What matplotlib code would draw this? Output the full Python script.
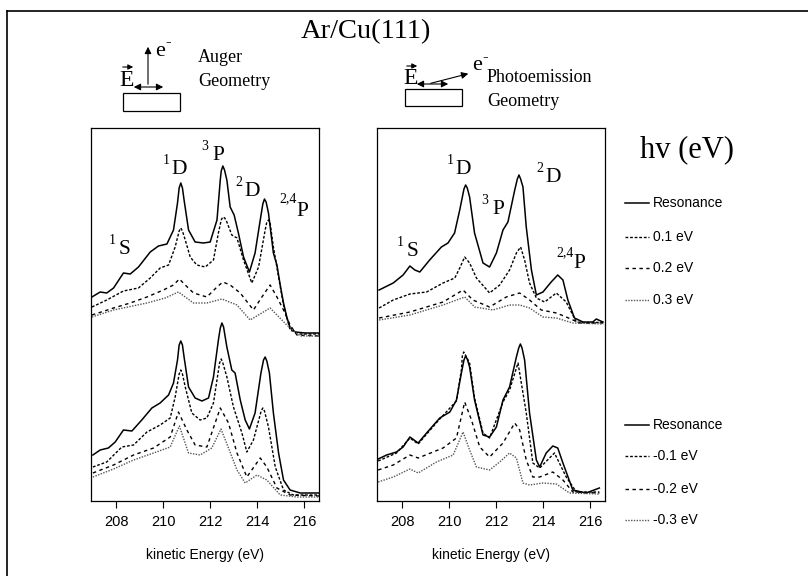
import matplotlib
matplotlib.use("Agg")
import matplotlib.pyplot as plt
from matplotlib.lines import Line2D
from matplotlib.patches import Rectangle, FancyArrowPatch

SERIF = "Liberation Serif"
SANS = "Liberation Sans"
plt.rcParams["font.family"] = [SANS, "DejaVu Sans"]

# ---------------- data (kinetic energy eV, intensity arb. units incl. stacking offset) -------------
# Auger geometry, upper group (positive detuning)
aug_res_E = [206.97, 207.32, 207.60, 207.89, 208.31, 208.60, 208.95, 209.45, 209.80, 210.16, 210.44, 210.61,
             210.68, 210.75, 210.82, 210.89, 211.08, 211.36, 211.71, 212.00, 212.29, 212.43, 212.47, 212.54,
             212.61, 212.71, 212.85, 213.02, 213.20, 213.42, 213.67, 213.91, 214.13, 214.24, 214.31, 214.38,
             214.48, 214.69, 214.84, 214.98, 215.12, 215.27, 215.41, 215.62, 216.04, 216.64]
aug_res_I = [204, 209, 208, 213, 228, 227, 234, 249, 255, 257, 271, 298, 313, 318, 313, 301, 271, 259, 258,
             259, 281, 321, 330, 335, 331, 321, 294, 286, 268, 244, 229, 248, 281, 297, 302, 299, 288, 248,
             236, 216, 198, 183, 173, 169, 168, 168]
aug_p01_E = [206.97, 207.60, 208.31, 208.95, 209.45, 209.87, 210.23, 210.51, 210.68, 210.75, 210.82, 210.94,
             211.15, 211.43, 211.79, 212.14, 212.35, 212.47, 212.54, 212.62, 212.71, 212.92, 213.14, 213.42,
             213.77, 214.06, 214.34, 214.41, 214.48, 214.55, 214.69, 214.91, 215.12, 215.40, 215.83, 216.64]
aug_p01_I = [194, 201, 210, 213, 223, 233, 236, 254, 270, 273, 270, 261, 244, 236, 234, 241, 268, 281, 284,
             283, 279, 266, 263, 241, 218, 234, 271, 279, 281, 278, 254, 224, 196, 171, 167, 167]
aug_p02_E = [206.97, 207.89, 208.60, 209.31, 210.01, 210.44, 210.69, 210.94, 211.29, 211.86, 212.29, 212.54,
             212.85, 213.28, 213.84, 214.20, 214.55, 214.84, 215.12, 215.40, 215.69, 216.64]
aug_p02_I = [186, 193, 198, 204, 211, 216, 222, 216, 208, 204, 214, 219, 216, 208, 191, 204, 216, 204, 191,
             176, 166, 165]
aug_p03_E = [206.97, 207.89, 209.31, 210.09, 210.65, 211.29, 211.86, 212.50, 213.14, 213.70, 214.55, 215.26,
             215.83, 216.64]
aug_p03_I = [184, 191, 198, 203, 209, 198, 198, 202, 196, 181, 193, 176, 165, 165]

# Auger geometry, lower group (negative detuning)
aug_res2_E = [207.01, 207.32, 207.67, 207.96, 208.31, 208.67, 209.09, 209.52, 209.87, 210.23, 210.44, 210.61,
              210.68, 210.75, 210.82, 210.89, 211.08, 211.36, 211.65, 211.93, 212.14, 212.35, 212.43, 212.50,
              212.57, 212.71, 212.92, 213.06, 213.28, 213.49, 213.67, 213.91, 214.16, 214.27, 214.34, 214.41,
              214.52, 214.69, 214.91, 215.12, 215.40, 215.83, 216.64]
aug_res2_I = [46, 51, 53, 59, 71, 70, 81, 93, 98, 106, 118, 141, 156, 160, 156, 144, 114, 103, 100, 103, 124,
              161, 173, 178, 174, 154, 131, 128, 101, 81, 72, 88, 128, 141, 144, 140, 128, 88, 48, 21, 11, 8, 8]
aug_m01_E = [207.01, 207.60, 208.24, 208.74, 209.31, 209.87, 210.30, 210.51, 210.68, 210.75, 210.82, 210.94,
             211.22, 211.57, 211.86, 212.14, 212.40, 212.47, 212.54, 212.71, 212.99, 213.35, 213.56, 213.84,
             214.17, 214.24, 214.31, 214.48, 214.77, 215.12, 215.54, 216.64]
aug_m01_I = [34, 39, 54, 56, 69, 76, 83, 104, 127, 131, 127, 114, 88, 81, 83, 98, 138, 142, 138, 124, 94, 68,
             49, 61, 90, 93, 90, 74, 34, 11, 6, 6]
aug_m02_E = [207.01, 207.89, 208.74, 209.59, 210.30, 210.65, 211.01, 211.36, 211.86, 212.43, 212.78, 213.14,
             213.56, 214.13, 214.41, 214.84, 215.40, 216.64]
aug_m02_I = [28, 36, 46, 53, 64, 89, 71, 56, 54, 93, 78, 48, 24, 43, 34, 13, 6, 5]
aug_m03_E = [207.01, 207.89, 208.74, 209.59, 210.30, 210.69, 211.08, 211.57, 212.07, 212.46, 212.78, 213.14,
             213.49, 213.99, 214.41, 214.98, 215.69, 216.64]
aug_m03_I = [24, 32, 41, 48, 54, 75, 48, 46, 53, 72, 53, 31, 18, 26, 21, 6, 4, 4]

# Photoemission geometry, upper group
pho_res_E = [207.02, 207.62, 208.04, 208.33, 208.54, 208.75, 209.17, 209.67, 209.95, 210.23, 210.45, 210.63,
             210.70, 210.77, 210.87, 211.08, 211.44, 211.72, 212.01, 212.29, 212.50, 212.79, 212.90, 212.97,
             213.04, 213.14, 213.28, 213.50, 213.71, 213.99, 214.34, 214.62, 214.84, 215.05, 215.33, 215.69,
             216.11, 216.26, 216.54]
pho_res_I = [211, 218, 226, 235, 231, 229, 241, 254, 258, 268, 291, 312, 316, 313, 304, 268, 238, 234, 248,
             271, 279, 311, 322, 326, 322, 314, 274, 231, 206, 209, 219, 226, 221, 201, 183, 179, 179, 182, 179]
pho_p01_E = [207.02, 207.62, 208.33, 209.04, 209.74, 210.24, 210.45, 210.66, 210.87, 211.16, 211.72, 212.15,
             212.57, 212.86, 213.04, 213.21, 213.42, 213.71, 214.06, 214.56, 214.98, 215.41, 215.97, 216.56]
pho_p01_I = [193, 201, 207, 209, 218, 223, 233, 244, 238, 223, 208, 216, 231, 248, 254, 241, 218, 203, 199,
             208, 199, 179, 178, 179]
pho_p02_E = [207.02, 208.33, 209.74, 210.59, 211.01, 211.72, 212.43, 213.00, 213.42, 213.92, 214.56, 214.98,
             215.55, 216.56]
pho_p02_I = [183, 189, 199, 211, 201, 194, 204, 208, 201, 191, 188, 184, 178, 178]
pho_p03_E = [207.02, 208.33, 209.74, 210.66, 211.09, 211.86, 212.57, 213.00, 213.42, 213.99, 214.56, 215.26,
             216.56]
pho_p03_I = [181, 186, 196, 204, 194, 191, 196, 196, 193, 184, 183, 178, 177]

# Photoemission geometry, lower group
pho_res2_E = [206.98, 207.34, 207.76, 208.04, 208.33, 208.68, 209.04, 209.60, 210.03, 210.31, 210.52, 210.63,
              210.70, 210.77, 210.87, 211.08, 211.44, 211.72, 212.01, 212.29, 212.57, 212.86, 212.96, 213.03,
              213.10, 213.21, 213.42, 213.71, 213.85, 214.13, 214.41, 214.62, 214.84, 215.26, 215.83, 216.39]
pho_res2_I = [42, 46, 49, 54, 64, 58, 68, 83, 89, 101, 128, 141, 145, 142, 134, 101, 66, 64, 74, 101, 114, 144,
              153, 157, 153, 141, 88, 41, 34, 48, 55, 53, 38, 11, 8, 13]
pho_m01_E = [206.98, 207.76, 208.33, 208.68, 209.60, 210.31, 210.52, 210.56, 210.62, 210.69, 210.87, 211.08,
             211.44, 211.72, 212.29, 212.57, 212.93, 213.28, 213.56, 213.85, 214.48, 214.98, 215.41, 216.39]
pho_m01_I = [40, 48, 63, 57, 82, 100, 131, 145, 149, 146, 138, 103, 68, 63, 99, 111, 138, 88, 38, 33, 48, 24,
             9, 9]
pho_m02_E = [206.98, 207.62, 208.33, 208.68, 209.74, 210.31, 210.66, 210.95, 211.30, 211.72, 212.29, 212.79,
             213.00, 213.28, 213.56, 213.85, 214.41, 214.84, 215.26, 216.39]
pho_m02_I = [31, 36, 46, 43, 53, 63, 99, 81, 54, 44, 58, 78, 71, 41, 24, 24, 29, 21, 9, 8]
pho_m03_E = [206.98, 207.62, 208.33, 208.68, 209.46, 210.17, 210.59, 210.87, 211.16, 211.72, 212.15, 212.57,
             212.86, 213.14, 213.42, 213.99, 214.56, 215.12, 216.39]
pho_m03_I = [19, 24, 32, 28, 39, 46, 69, 51, 34, 31, 39, 48, 43, 18, 16, 18, 17, 8, 7]

upper_labels = ["Resonance", "0.1 eV", "0.2 eV", "0.3 eV"]
lower_labels = ["Resonance", "-0.1 eV", "-0.2 eV", "-0.3 eV"]
xticks = [208, 210, 212, 214, 216]

aug_left = [(aug_res_E, aug_res_I), (aug_p01_E, aug_p01_I), (aug_p02_E, aug_p02_I), (aug_p03_E, aug_p03_I),
            (aug_res2_E, aug_res2_I), (aug_m01_E, aug_m01_I), (aug_m02_E, aug_m02_I), (aug_m03_E, aug_m03_I)]
pho_right = [(pho_res_E, pho_res_I), (pho_p01_E, pho_p01_I), (pho_p02_E, pho_p02_I), (pho_p03_E, pho_p03_I),
             (pho_res2_E, pho_res2_I), (pho_m01_E, pho_m01_I), (pho_m02_E, pho_m02_I), (pho_m03_E, pho_m03_I)]

# ---------------- styles ----------------
styles = [dict(color="black", lw=1.1, ls="-"),
          dict(color="black", lw=1.0, ls=(0, (2, 1.3))),
          dict(color="black", lw=1.0, ls=(0, (2.5, 2.5))),
          dict(color="#555555", lw=1.0, ls=(0, (1, 1)))]

W, H = 808, 576
fig = plt.figure(figsize=(W / 100, H / 100), dpi=100)


def fx(px):
    return px / W


def fy(py):
    return 1 - py / H


ax_l = fig.add_axes([fx(91), fy(501), fx(319 - 91), (501 - 128) / H])
ax_r = fig.add_axes([fx(377), fy(501), fx(605 - 377), (501 - 128) / H])

for ax, curves in ((ax_l, aug_left), (ax_r, pho_right)):
    for i, (E, I) in enumerate(curves):
        ax.plot(E, I, **styles[i % 4])
    ax.set_xlim(206.93, 216.63)
    ax.set_ylim(0, 373)
    ax.set_yticks([])
    ax.set_xticks(xticks)
    ax.set_xticklabels([str(t) for t in xticks], fontsize=10.5, family=SANS)
    ax.tick_params(axis="x", direction="out", length=5, width=0.8, pad=5)
    for s in ax.spines.values():
        s.set_linewidth(0.9)
    ax.set_xlabel("kinetic Energy (eV)", fontsize=10, family=SANS, labelpad=14)


def ptext(px, py, s, size, **kw):
    fig.text(fx(px), fy(py), s, fontsize=size, family=SERIF, ha="center", va="center", **kw)


def peak(px, py, sup, letter):
    ptext(px - 13, py - 9, sup, 10)
    ptext(px, py, letter, 15.5)


# peak labels, Auger panel
peak(125, 250, "1", "S")
peak(179, 170, "1", "D")
peak(218, 156, "3", "P")
peak(252, 191, "2", "D")
fig.text(fx(279), fy(199), "2,4", fontsize=10, family=SERIF, ha="left", va="center")
ptext(302, 211, "P", 15.5)
# peak labels, photoemission panel
peak(413, 252, "1", "S")
peak(463, 170, "1", "D")
peak(498, 210, "3", "P")
peak(553, 178, "2", "D")
fig.text(fx(556), fy(253), "2,4", fontsize=10, family=SERIF, ha="left", va="center")
ptext(579, 263, "P", 15.5)

# title and header
ptext(366, 32, "Ar/Cu(111)", 20.5)
ptext(687, 150, "hv (eV)", 22)

# left geometry sketch
ptext(127, 80, "E", 17)
fig.add_artist(FancyArrowPatch((fx(120), fy(67)), (fx(136), fy(67)), transform=fig.transFigure,
                               arrowstyle="-|>,head_length=3,head_width=1.5", lw=0.8, color="black"))
fig.add_artist(Rectangle((fx(123), fy(111)), fx(180 - 123), (111 - 93) / H, transform=fig.transFigure,
                         fill=False, lw=0.9, ec="black"))
fig.add_artist(FancyArrowPatch((fx(131), fy(87)), (fx(166), fy(87)), transform=fig.transFigure,
                               arrowstyle="<|-|>,head_length=4,head_width=2", lw=0.8, color="black"))
fig.add_artist(FancyArrowPatch((fx(148), fy(87)), (fx(148), fy(44)), transform=fig.transFigure,
                               arrowstyle="-|>,head_length=4,head_width=2", lw=0.8, color="black"))
ptext(160, 51, "e", 16)
ptext(168, 42, "-", 12)
fig.text(fx(198), fy(58), "Auger", fontsize=13, family=SERIF, ha="left", va="center")
fig.text(fx(198), fy(82), "Geometry", fontsize=13, family=SERIF, ha="left", va="center")

# right geometry sketch
ptext(411, 79, "E", 17)
fig.add_artist(FancyArrowPatch((fx(404), fy(66)), (fx(420), fy(66)), transform=fig.transFigure,
                               arrowstyle="-|>,head_length=3,head_width=1.5", lw=0.8, color="black"))
fig.add_artist(Rectangle((fx(405), fy(106)), fx(462 - 405), (106 - 89) / H, transform=fig.transFigure,
                         fill=False, lw=0.9, ec="black"))
fig.add_artist(FancyArrowPatch((fx(414), fy(84)), (fx(451), fy(84)), transform=fig.transFigure,
                               arrowstyle="<|-|>,head_length=4,head_width=2", lw=0.8, color="black"))
fig.add_artist(FancyArrowPatch((fx(428), fy(84)), (fx(471), fy(73)), transform=fig.transFigure,
                               arrowstyle="-|>,head_length=4,head_width=2", lw=0.8, color="black"))
ptext(477, 66, "e", 16)
ptext(485, 57, "-", 12)
fig.text(fx(487), fy(78), "Photoemission", fontsize=13, family=SERIF, ha="left", va="center")
fig.text(fx(487), fy(101), "Geometry", fontsize=13, family=SERIF, ha="left", va="center")

# legends
up_y = [203, 237, 268, 300]
lo_y = [425, 456, 489, 520]
for labels, ys in ((upper_labels, up_y), (lower_labels, lo_y)):
    for i, (lab, yy) in enumerate(zip(labels, ys)):
        st = dict(styles[i])
        fig.add_artist(Line2D([fx(625), fx(649)], [fy(yy), fy(yy)], transform=fig.transFigure, **st))
        fig.text(fx(653), fy(yy), lab, fontsize=10, family=SANS, ha="left", va="center")

# outer frame (top and left)
fig.add_artist(Line2D([fx(7), 1], [fy(11), fy(11)], transform=fig.transFigure, color="black", lw=1.2))
fig.add_artist(Line2D([fx(7), fx(7)], [fy(11), 0], transform=fig.transFigure, color="black", lw=1.2))

fig.savefig("out.png", dpi=100)
